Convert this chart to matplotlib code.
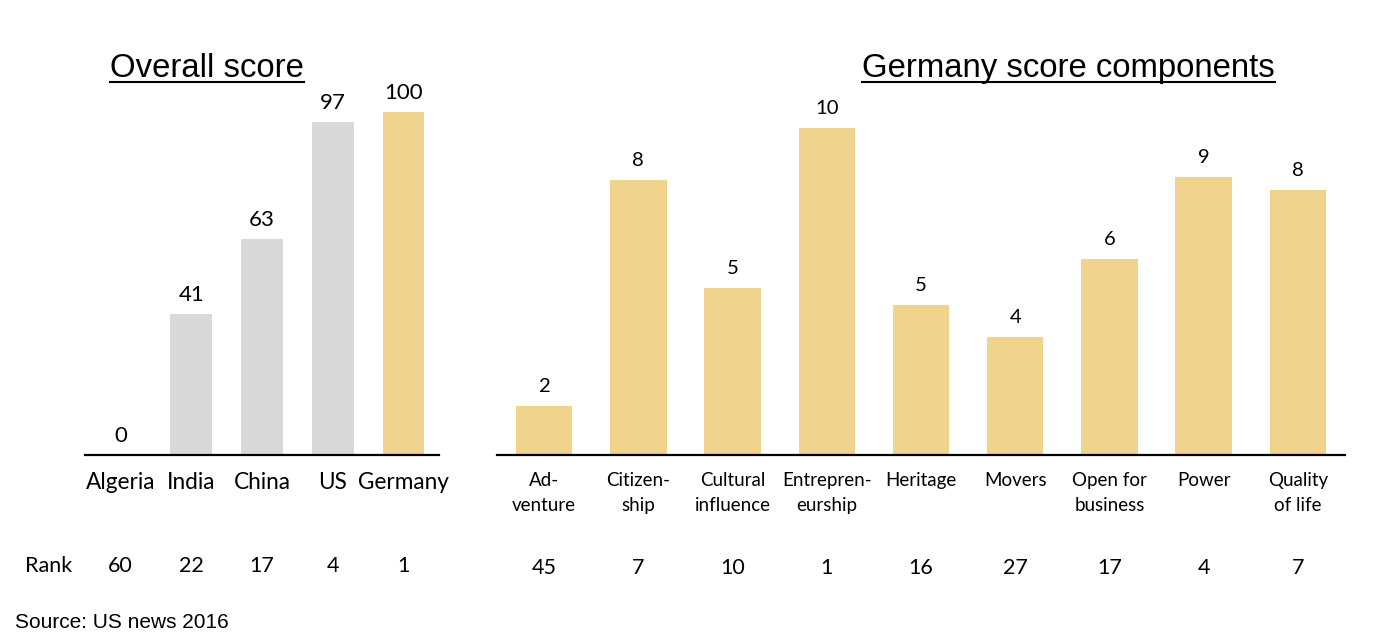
import matplotlib
matplotlib.use("Agg")
import matplotlib.pyplot as plt
from matplotlib.transforms import blended_transform_factory
from matplotlib.lines import Line2D

# ---- data ----
countries = ["Algeria", "India", "China", "US", "Germany"]
overall_scores = [0, 41, 63, 97, 100]
overall_ranks = [60, 22, 17, 4, 1]

components = ["Ad-\nventure", "Citizen-\nship", "Cultural\ninfluence", "Entrepren-\neurship",
              "Heritage", "Movers", "Open for\nbusiness", "Power", "Quality\nof life"]
component_values = [1.5, 8.4, 5.1, 10.0, 4.6, 3.6, 6.0, 8.5, 8.1]
component_labels = ["2", "8", "5", "10", "5", "4", "6", "9", "8"]
component_ranks = [45, 7, 10, 1, 16, 27, 17, 4, 7]

GRAY = "#D9D9D9"
GOLD = "#F0D38C"
BODY = "Lato"
HEAD = "Liberation Sans"

W, H = 1380, 644
fig = plt.figure(figsize=(W / 100, H / 100), dpi=100)


def fx(px):
    return px / W


def fy(py):
    return 1 - py / H


def style_axes(ax):
    for s in ["top", "left", "right"]:
        ax.spines[s].set_visible(False)
    ax.spines["bottom"].set_linewidth(1.6)
    ax.spines["bottom"].set_color("black")
    ax.set_xticks([])
    ax.set_yticks([])
    ax.patch.set_alpha(0)


# ---- left chart ----
ax1 = fig.add_axes([fx(85), fy(455), fx(439) - fx(85), (455 - 112) / H])
x1 = list(range(len(countries)))
colors1 = [GRAY] * (len(countries) - 1) + [GOLD]
ax1.bar(x1, overall_scores, width=0.59, color=colors1)
ax1.set_xlim(-0.5, len(countries) - 0.5)
ax1.set_ylim(0, 100)
style_axes(ax1)
for xi, v in zip(x1, overall_scores):
    ax1.annotate(str(v), (xi, v), xytext=(0, 13), textcoords="offset pixels",
                 ha="center", va="baseline", fontsize=16, family=BODY)
tr1 = blended_transform_factory(ax1.transData, fig.transFigure)
for xi, name in zip(x1, countries):
    ax1.text(xi, fy(489), name, transform=tr1, ha="center", va="baseline",
             fontsize=16.3, family=BODY)
for xi, r in zip(x1, overall_ranks):
    ax1.text(xi, fy(572), str(r), transform=tr1, ha="center", va="baseline",
             fontsize=15.5, family=BODY)
fig.text(fx(25), fy(572), "Rank", ha="left", va="baseline", fontsize=15.5, family=BODY)

# ---- right chart ----
ax2 = fig.add_axes([fx(497), fy(455), fx(1345) - fx(497), (455 - 128) / H])
x2 = list(range(len(components)))
ax2.bar(x2, component_values, width=0.6, color=GOLD)
ax2.set_xlim(-0.5, len(components) - 0.5)
ax2.set_ylim(0, 10)
style_axes(ax2)
for xi, v, lab in zip(x2, component_values, component_labels):
    ax2.annotate(lab, (xi, v), xytext=(0, 14), textcoords="offset pixels",
                 ha="center", va="baseline", fontsize=14.6, family=BODY)
tr2 = blended_transform_factory(ax2.transData, fig.transFigure)
for xi, name in zip(x2, components):
    for k, line in enumerate(name.split("\n")):
        ax2.text(xi, fy(486 + 25 * k), line, transform=tr2, ha="center", va="baseline",
                 fontsize=13.5, family=BODY)
for xi, r in zip(x2, component_ranks):
    ax2.text(xi, fy(574), str(r), transform=tr2, ha="center", va="baseline",
             fontsize=15.5, family=BODY)

# ---- titles with underline ----
t1 = fig.text(fx(110), fy(77), "Overall score", ha="left", va="baseline",
              fontsize=23.7, family=HEAD)
t2 = fig.text(fx(862), fy(77), "Germany score components", ha="left", va="baseline",
              fontsize=23.7, family=HEAD)
fig.text(fx(15), fy(628), "Source: US news 2016", ha="left", va="baseline",
         fontsize=15, family=HEAD)

fig.canvas.draw()
renderer = fig.canvas.get_renderer()
for t in (t1, t2):
    bb = t.get_window_extent(renderer)
    yline = fy(81.5)
    fig.add_artist(Line2D([bb.x0 / W, bb.x1 / W], [yline, yline],
                          transform=fig.transFigure, color="black", lw=1.5))

fig.savefig("out.png", dpi=100, facecolor="white")
